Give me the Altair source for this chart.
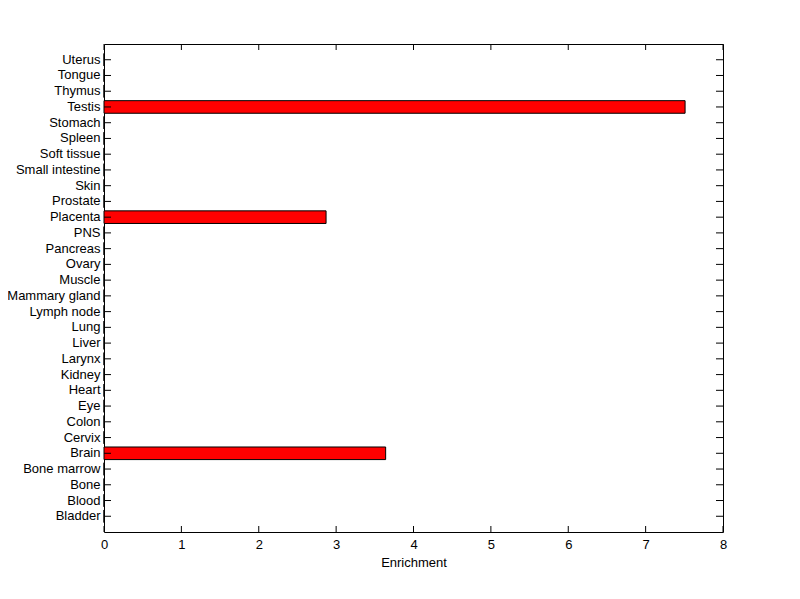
import altair as alt
import pandas as pd

categories = ["Bladder", "Blood", "Bone", "Bone marrow", "Brain", "Cervix", "Colon", "Eye",
              "Heart", "Kidney", "Larynx", "Liver", "Lung", "Lymph node", "Mammary gland",
              "Muscle", "Ovary", "Pancreas", "PNS", "Placenta", "Prostate", "Skin",
              "Small intestine", "Soft tissue", "Spleen", "Stomach", "Testis", "Thymus",
              "Tongue", "Uterus"]
enrichment = [0, 0, 0, 0, 3.64, 0, 0, 0, 0, 0, 0, 0, 0, 0, 0, 0, 0, 0, 0, 2.87,
              0, 0, 0, 0, 0, 0, 7.51, 0, 0, 0]
x_ticks = [0, 1, 2, 3, 4, 5, 6, 7, 8]

df = pd.DataFrame({"tissue": categories, "enrichment": enrichment})
tick_df = pd.DataFrame({"t": x_ticks})

W, H = 619, 488
FONT = "Liberation Sans"
order = list(reversed(categories))

yscale = alt.Scale(domain=order, paddingInner=0.2, paddingOuter=0.6)
xscale = alt.Scale(domain=[0, 8], nice=False, zero=True)

bars = alt.Chart(df).mark_bar(color="#ff0000", stroke="black", strokeWidth=1).encode(
    x=alt.X("enrichment:Q", scale=xscale,
            axis=alt.Axis(title="Enrichment", values=x_ticks, format="d", ticks=False,
                          domain=False, grid=False, labelPadding=6, titlePadding=5,
                          labelFlush=False, labelFont=FONT, titleFont=FONT,
                          labelFontSize=13, titleFontSize=13, titleFontWeight="normal",
                          labelColor="black", titleColor="black")),
    y=alt.Y("tissue:N", scale=yscale, sort=order,
            axis=alt.Axis(title=None, ticks=False, domain=False, grid=False, labelPadding=4,
                          labelFont=FONT, labelFontSize=13, labelColor="black")),
)

left_ticks = alt.Chart(df).mark_rule(color="black", strokeWidth=1).encode(
    y=alt.Y("tissue:N", scale=yscale, sort=order),
    x=alt.value(0), x2=alt.value(7))
right_ticks = alt.Chart(df).mark_rule(color="black", strokeWidth=1).encode(
    y=alt.Y("tissue:N", scale=yscale, sort=order),
    x=alt.value(W - 7), x2=alt.value(W))
bottom_ticks = alt.Chart(tick_df).mark_rule(color="black", strokeWidth=1).encode(
    x=alt.X("t:Q", scale=xscale),
    y=alt.value(H), y2=alt.value(H - 6))
top_ticks = alt.Chart(tick_df).mark_rule(color="black", strokeWidth=1).encode(
    x=alt.X("t:Q", scale=xscale),
    y=alt.value(0), y2=alt.value(6))

chart = alt.layer(bars, left_ticks, right_ticks, bottom_ticks, top_ticks).properties(
    width=W, height=H,
    autosize=alt.AutoSizeParams(type="none"),
    padding={"left": 96, "top": 36, "right": 60, "bottom": 60},
    background="white",
).configure_view(stroke="black", strokeWidth=1)

chart.save("out.html", embed_options={"renderer": "svg", "actions": False})
